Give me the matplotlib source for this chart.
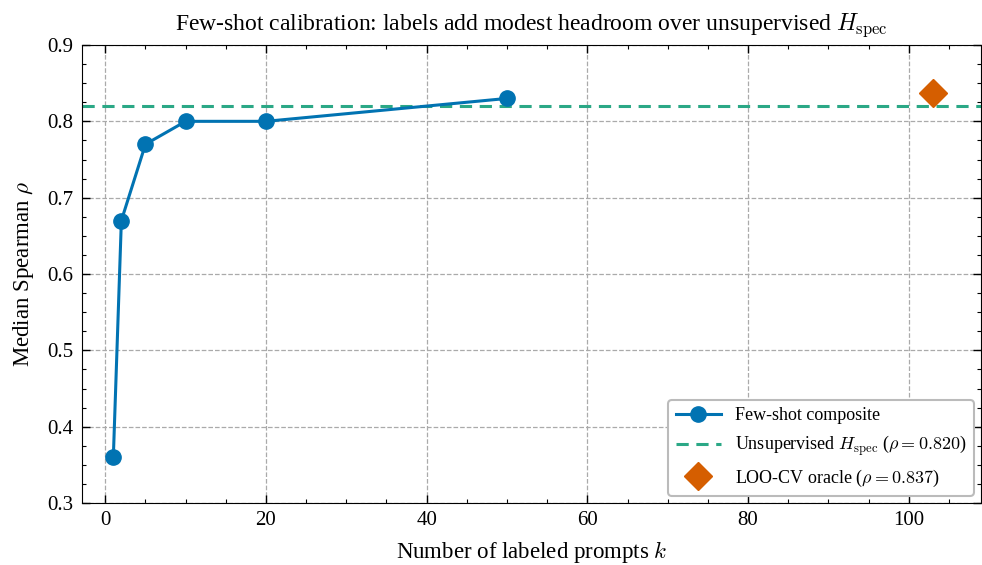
import numpy as np
import matplotlib
matplotlib.use("Agg")
import matplotlib.pyplot as plt
from matplotlib.ticker import MultipleLocator

plt.rcParams['font.family'] = ['Liberation Serif', 'DejaVu Serif']
plt.rcParams['mathtext.fontset'] = 'cm'

# data
k_vals = [1, 2, 5, 10, 20, 50]
rho_fewshot = [0.36, 0.67, 0.77, 0.80, 0.80, 0.83]
rho_unsup = 0.820
oracle_x = [103]
rho_oracle = [0.837]

blue = '#0173B2'
green = '#2BA886'
orange = '#D55E00'

fig = plt.figure(figsize=(9.82, 5.65), dpi=100)
ax = fig.add_axes([82/982, 62/565, 899/982, 458/565])

ax.plot(k_vals, rho_fewshot, '-o', color=blue, lw=2.2, ms=11,
        label='Few-shot composite', zorder=3)
ax.axhline(rho_unsup, color=green, lw=2.2, ls=(0, (4, 2.5)),
           label=r'Unsupervised $H_{\mathrm{spec}}$ ($\rho = %.3f$)' % rho_unsup, zorder=2)
ax.plot(oracle_x, rho_oracle, 'D', color=orange, ms=14, ls='none',
        label=r'LOO-CV oracle ($\rho = %.3f$)' % rho_oracle[0], zorder=3)

ax.set_xlim(-2.9, 109)
ax.set_ylim(0.3, 0.9)
ax.xaxis.set_major_locator(MultipleLocator(20))
ax.xaxis.set_minor_locator(MultipleLocator(5))
ax.yaxis.set_major_locator(MultipleLocator(0.1))
ax.yaxis.set_minor_locator(MultipleLocator(0.025))
ax.tick_params(which='both', direction='in', top=True, right=True, labelsize=15)
ax.tick_params(which='major', length=6, width=1, pad=6)
ax.tick_params(which='minor', length=3, width=0.8)
ax.grid(True, which='major', ls='--', color='#aaaaaa', lw=0.9)

ax.set_xlabel(r'Number of labeled prompts $k$', fontsize=16.5, labelpad=6)
ax.set_ylabel(r'Median Spearman $\rho$', fontsize=16.5, labelpad=8)
ax.set_title(r'Few-shot calibration: labels add modest headroom over unsupervised $H_{\mathrm{spec}}$',
             fontsize=17, pad=11)

leg = ax.legend(loc='lower right', fontsize=13, frameon=True, fancybox=True,
                edgecolor='#bbbbbb', framealpha=1, borderaxespad=0.4,
                labelspacing=0.5, handlelength=2.5)
leg.get_frame().set_linewidth(1.5)

fig.savefig('out.png', dpi=100)
